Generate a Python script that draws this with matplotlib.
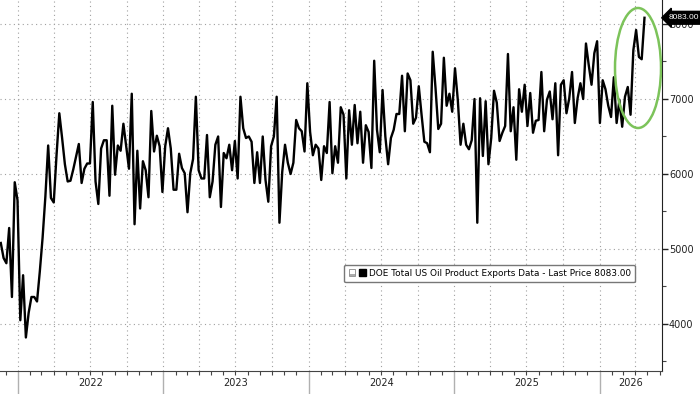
import matplotlib
matplotlib.use("Agg")
import matplotlib.pyplot as plt
import matplotlib.dates as mdates
import matplotlib.transforms as mtransforms
from matplotlib.patches import Ellipse, Patch
from matplotlib.legend_handler import HandlerTuple
import pandas as pd

# weekly DOE total US oil product exports (kb/d)
exports = [
    5080, 4880, 4810, 5280, 4360, 5890, 5650, 4050, 4650, 3820,
    4150, 4360, 4360, 4300, 4700, 5150, 5700, 6380, 5680, 5620,
    6250, 6810,
    6480, 6130, 5900, 5910, 6060, 6230, 6400, 5880, 6070, 6140,
    6140, 6960, 5900, 5600, 6340, 6450, 6450, 5710, 6910, 5990,
    6380, 6310, 6670, 6370, 6070, 7070, 5330, 6310, 5540, 6170,
    6050, 5690, 6840, 6300, 6510, 6370, 5760, 6370, 6610, 6340,
    5790, 5790, 6270, 6080,
    6010, 5490, 6010, 6200, 7030, 6050, 5940, 5940, 6520, 5690,
    5900, 6390, 6500, 5560, 6280, 6210, 6390, 6050, 6440, 5940,
    7030, 6610, 6480, 6500, 6430, 5880, 6290, 5880, 6500, 5920,
    5630, 6370, 6500, 7030, 5350, 6030, 6390, 6150, 6000, 6150,
    6720, 6610, 6570, 6300, 7210, 6560, 6250, 6390, 6340, 5920,
    6370, 6280, 6960, 6010, 6370, 6150, 6890, 6790, 5940, 6850,
    6390, 6920, 6410, 6830, 6150, 6650, 6560, 6080, 7510, 6590,
    6290, 7120, 6500, 6130, 6480, 6590, 6800, 6800, 7310, 6570,
    7340, 7250, 6670, 6750, 7170, 6790, 6430, 6410, 6290, 7630,
    7150, 6600, 6670, 7550, 6910, 7070, 6830, 7410, 6990, 6390,
    6670, 6390, 6330, 6450, 7000, 5350, 7010, 6240, 6970, 6130,
    6480, 7110, 6950, 6440, 6550, 6640, 7600, 6570, 6890, 6190,
    7130,
    6830, 7190, 6640, 7080, 6550, 6710, 6720, 7360, 6570, 6990,
    7100, 6730, 7210, 6250, 7190, 7250, 6810, 7010, 7360, 6680,
    7010, 7210, 7000, 7740, 7450, 7190, 7610, 7770, 6680, 7250,
    7130, 6910, 6760, 7290, 6680, 6990, 6630, 7030, 7160, 6790,
    7650, 7920, 7560, 7530, 8083,
]
weeks = pd.date_range("2021-11-19", periods=len(exports), freq="7D")
years = [2022, 2023, 2024, 2025, 2026]
y_ticks = [4000, 5000, 6000, 7000, 8000]
last_price = exports[-1]
series_label = "DOE Total US Oil Product Exports Data - Last Price %.2f" % last_price

x_left = pd.Timestamp("2021-11-17")
x_right = pd.Timestamp("2026-06-07")

fig = plt.figure(figsize=(7, 3.94), dpi=100)
ax = fig.add_axes([0, 23 / 394, 662 / 700, 371 / 394])

ax.plot(weeks, exports, color="black", lw=1.7, zorder=3)

ax.set_xlim(x_left, x_right)
ax.set_ylim(3373, 8320)

# dotted grid: quarterly verticals, 1000 horizontals
grid_kw = dict(color="#a0a0a0", lw=0.8, linestyle=(0, (1, 3)), zorder=1)
for q in pd.date_range("2022-01-01", x_right, freq="QS"):
    ax.axvline(q, **grid_kw)
for v in y_ticks:
    ax.axhline(v, **grid_kw)

for side in ["left", "top"]:
    ax.spines[side].set_visible(False)
ax.spines["bottom"].set_color("#444444")
ax.spines["right"].set_color("#222222")

# y axis on the right
ax.yaxis.tick_right()
ax.set_yticks(y_ticks)
ax.set_yticks([3500, 4500, 5500, 6500, 7500], minor=True)
ax.tick_params(axis="y", which="major", direction="out", length=4, width=1,
               labelsize=7, pad=1, colors="#222222")
ax.tick_params(axis="y", which="minor", direction="out", length=3, width=0.8,
               colors="#444444")

# x axis: monthly ticks, year separators, centred year labels
ax.xaxis.set_major_locator(mdates.YearLocator())
ax.xaxis.set_minor_locator(mdates.MonthLocator())
ax.xaxis.set_major_formatter(plt.NullFormatter())
ax.tick_params(axis="x", which="major", direction="out", length=23, width=1,
               color="#b0b0b0")
ax.tick_params(axis="x", which="minor", direction="out", length=3, width=0.8,
               color="#444444")
trans = mtransforms.blended_transform_factory(ax.transData, ax.transAxes)
for yr in years:
    start = max(pd.Timestamp(f"{yr}-01-01"), x_left)
    end = min(pd.Timestamp(f"{yr + 1}-01-01"), x_right)
    mid = start + (end - start) / 2
    ax.text(mid, -0.033, str(yr), transform=trans, ha="center", va="center",
            fontsize=7, color="#222222")

# last price tag
ax.annotate("%.2f" % last_price, xy=(1.0, last_price),
            xycoords=mtransforms.blended_transform_factory(ax.transAxes, ax.transData),
            xytext=(5, 0), textcoords="offset points", ha="left", va="center",
            fontsize=6, family="Liberation Sans", color="white",
            annotation_clip=False, zorder=10,
            bbox=dict(boxstyle="larrow,pad=0.35", fc="black", ec="black"))

# highlight ellipse
ax.add_patch(Ellipse((638 / 662, 1 - 68 / 371), 46 / 662, 120 / 371,
                     transform=ax.transAxes, fill=False, ec="#7cc35a",
                     lw=1.8, zorder=4))

icon = Patch(fc="white", ec="#888888", lw=0.6, hatch="+")
square = Patch(fc="black", ec="black")
leg = ax.legend(handles=[(icon, square)], labels=[series_label],
                handler_map={tuple: HandlerTuple(ndivide=None, pad=0.4)},
                loc="upper left", bbox_to_anchor=(0.52, 0.287),
                fontsize=6.4, frameon=True, fancybox=True, handlelength=1.9,
                handleheight=0.8, handletextpad=0.35, borderpad=0.5,
                borderaxespad=0, framealpha=1)
leg.get_frame().set_edgecolor("#777777")
leg.get_frame().set_linewidth(1)

fig.savefig("out.png", dpi=100)
